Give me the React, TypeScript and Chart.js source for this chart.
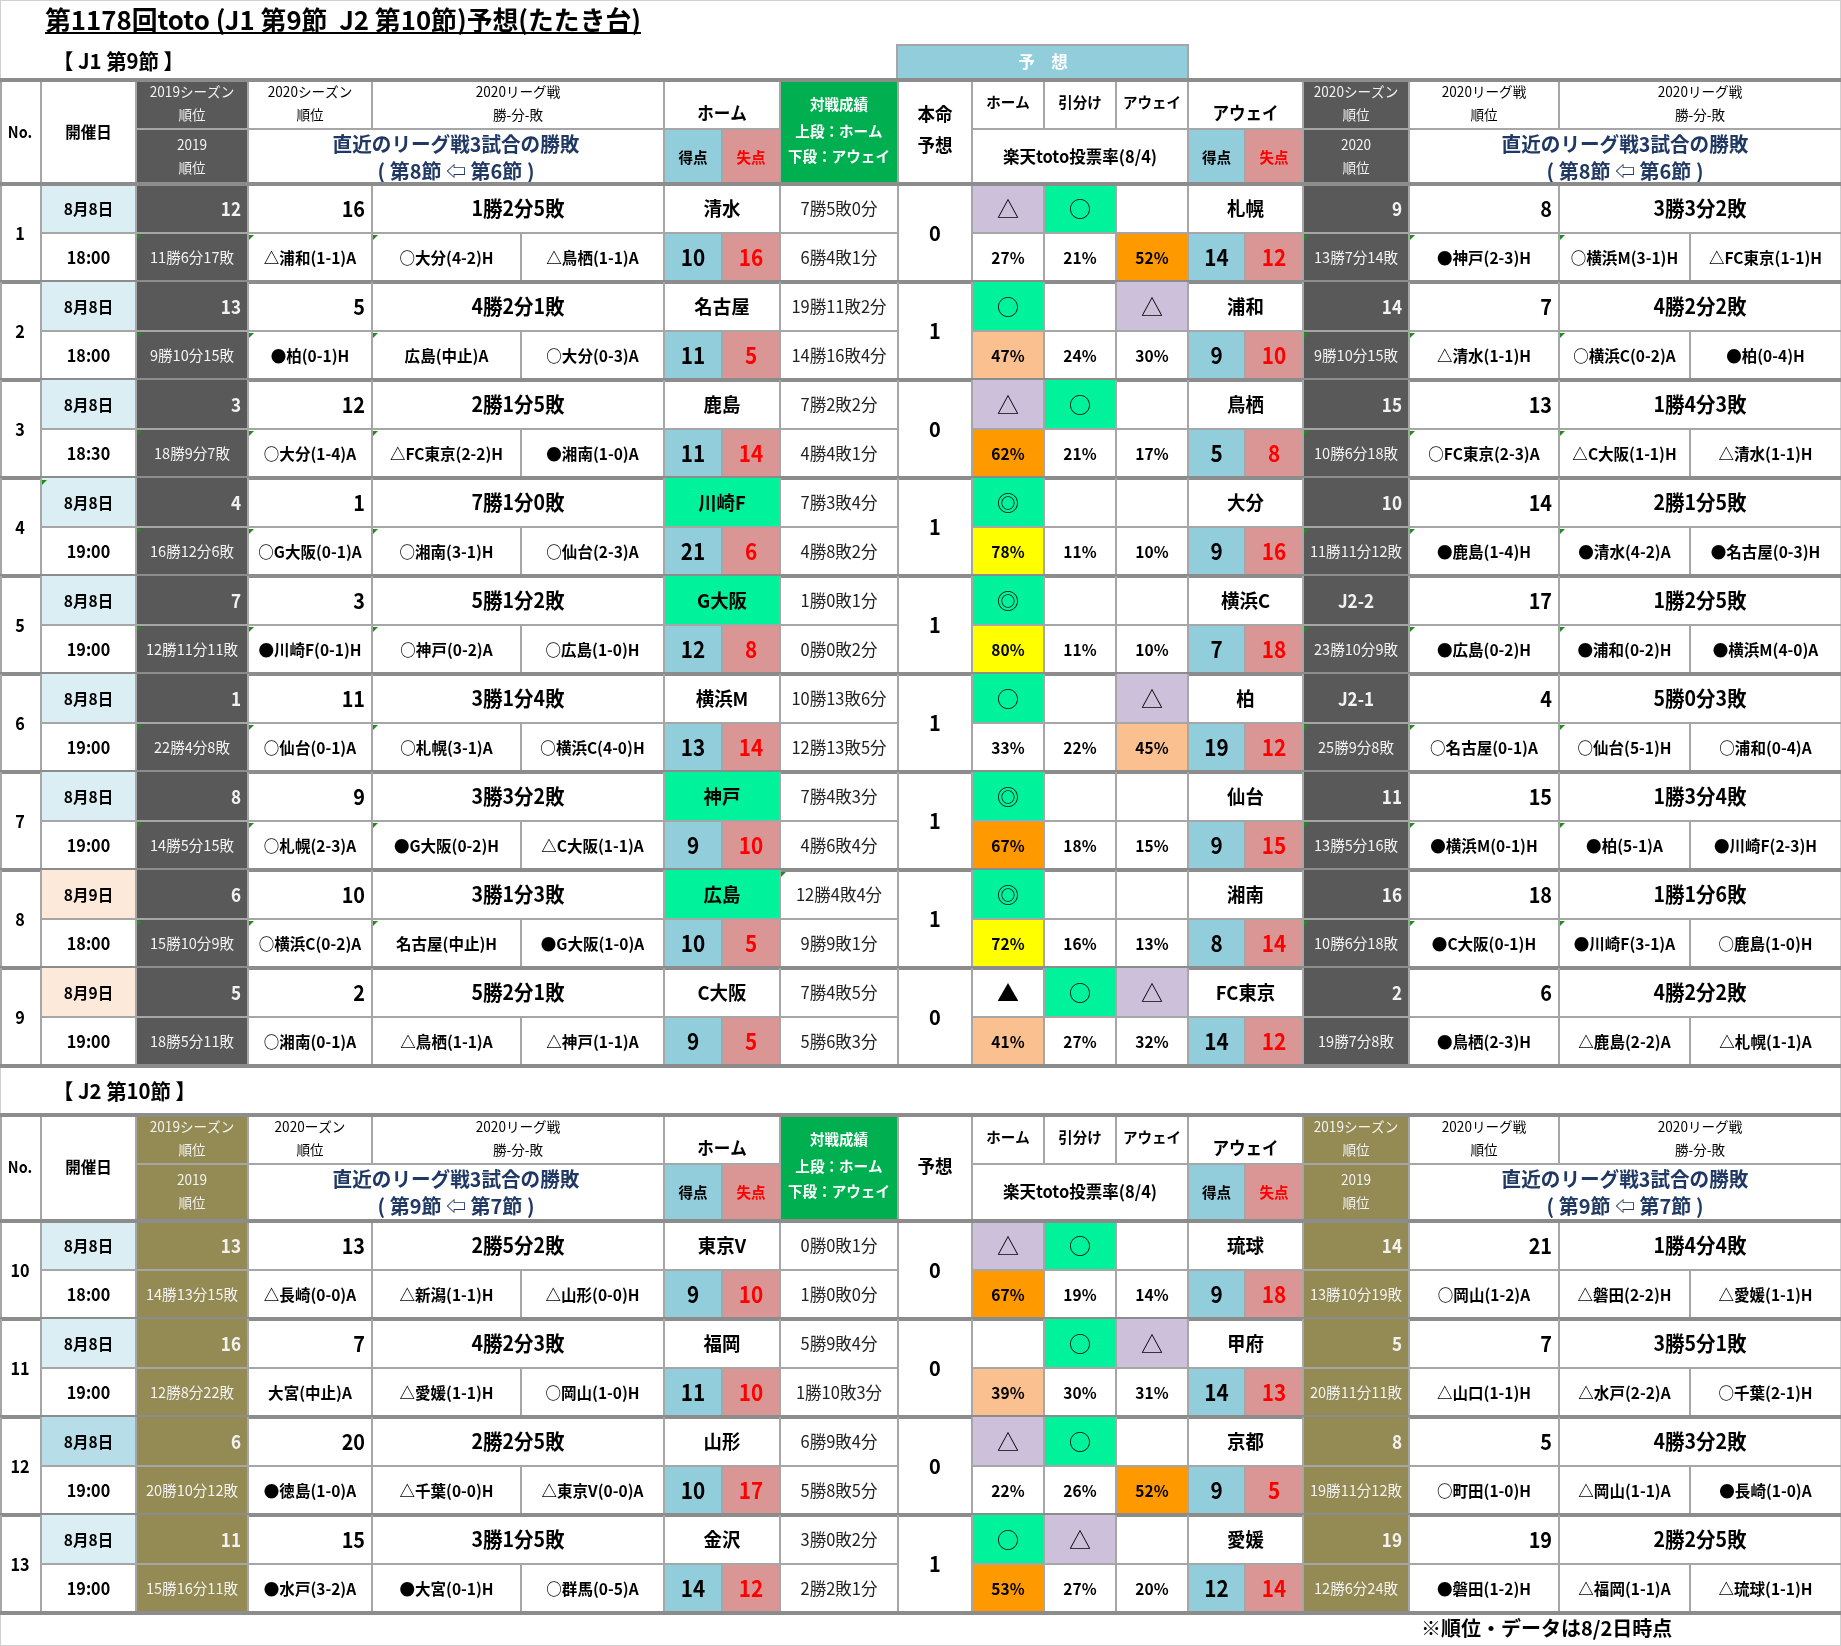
import React, { useEffect, useRef } from 'react';
import { Chart, registerables } from 'chart.js';
Chart.register(...registerables);

// ---------------- data ----------------
const title = '第1178回toto (J1 第9節  J2 第10節)予想(たたき台)';
const sectionLabels = ['【 J1 第9節 】', '【 J2 第10節 】'];
const footnote = '※順位・データは8/2日時点';

const matchNo = [1, 2, 3, 4, 5, 6, 7, 8, 9, 10, 11, 12, 13];
const dates = ['8月8日', '8月8日', '8月8日', '8月8日', '8月8日', '8月8日', '8月8日', '8月9日', '8月9日', '8月8日', '8月8日', '8月8日', '8月8日'];
const times = ['18:00', '18:00', '18:30', '19:00', '19:00', '19:00', '19:00', '18:00', '19:00', '18:00', '19:00', '19:00', '19:00'];
const homeTeams = ['清水', '名古屋', '鹿島', '川崎F', 'G大阪', '横浜M', '神戸', '広島', 'C大阪', '東京V', '福岡', '山形', '金沢'];
const awayTeams = ['札幌', '浦和', '鳥栖', '大分', '横浜C', '柏', '仙台', '湘南', 'FC東京', '琉球', '甲府', '京都', '愛媛'];
const homeRankA = ['12', '13', '3', '4', '7', '1', '8', '6', '5', '13', '16', '6', '11'];
const homeRecA = ['11勝6分17敗', '9勝10分15敗', '18勝9分7敗', '16勝12分6敗', '12勝11分11敗', '22勝4分8敗', '14勝5分15敗', '15勝10分9敗', '18勝5分11敗', '14勝13分15敗', '12勝8分22敗', '20勝10分12敗', '15勝16分11敗'];
const homeRankB = ['16', '5', '12', '1', '3', '11', '9', '10', '2', '13', '7', '20', '15'];
const homeWDL = ['1勝2分5敗', '4勝2分1敗', '2勝1分5敗', '7勝1分0敗', '5勝1分2敗', '3勝1分4敗', '3勝3分2敗', '3勝1分3敗', '5勝2分1敗', '2勝5分2敗', '4勝2分3敗', '2勝2分5敗', '3勝1分5敗'];
const homeRecent = [
  ['△浦和(1-1)A', '○大分(4-2)H', '△鳥栖(1-1)A'],
  ['●柏(0-1)H', '広島(中止)A', '○大分(0-3)A'],
  ['○大分(1-4)A', '△FC東京(2-2)H', '●湘南(1-0)A'],
  ['○G大阪(0-1)A', '○湘南(3-1)H', '○仙台(2-3)A'],
  ['●川崎F(0-1)H', '○神戸(0-2)A', '○広島(1-0)H'],
  ['○仙台(0-1)A', '○札幌(3-1)A', '○横浜C(4-0)H'],
  ['○札幌(2-3)A', '●G大阪(0-2)H', '△C大阪(1-1)A'],
  ['○横浜C(0-2)A', '名古屋(中止)H', '●G大阪(1-0)A'],
  ['○湘南(0-1)A', '△鳥栖(1-1)A', '△神戸(1-1)A'],
  ['△長崎(0-0)A', '△新潟(1-1)H', '△山形(0-0)H'],
  ['大宮(中止)A', '△愛媛(1-1)H', '○岡山(1-0)H'],
  ['●徳島(1-0)A', '△千葉(0-0)H', '△東京V(0-0)A'],
  ['●水戸(3-2)A', '●大宮(0-1)H', '○群馬(0-5)A'],
];
const homeGF = [10, 11, 11, 21, 12, 13, 9, 10, 9, 9, 11, 10, 14];
const homeGA = [16, 5, 14, 6, 8, 14, 10, 5, 5, 10, 10, 17, 12];
const h2hHome = ['7勝5敗0分', '19勝11敗2分', '7勝2敗2分', '7勝3敗4分', '1勝0敗1分', '10勝13敗6分', '7勝4敗3分', '12勝4敗4分', '7勝4敗5分', '0勝0敗1分', '5勝9敗4分', '6勝9敗4分', '3勝0敗2分'];
const h2hAway = ['6勝4敗1分', '14勝16敗4分', '4勝4敗1分', '4勝8敗2分', '0勝0敗2分', '12勝13敗5分', '4勝6敗4分', '9勝9敗1分', '5勝6敗3分', '1勝0敗0分', '1勝10敗3分', '5勝8敗5分', '2勝2敗1分'];
const picks = ['0', '1', '0', '1', '1', '1', '1', '1', '0', '0', '0', '0', '1'];
const markHome = ['△', '○', '△', '◎', '◎', '○', '◎', '◎', '▲', '△', '', '△', '○'];
const markDraw = ['○', '', '○', '', '', '', '', '', '○', '○', '○', '○', '△'];
const markAway = ['', '△', '', '', '', '△', '', '', '△', '', '△', '', ''];
const pctHome = [27, 47, 62, 78, 80, 33, 67, 72, 41, 67, 39, 22, 53];
const pctDraw = [21, 24, 21, 11, 11, 22, 18, 16, 27, 19, 30, 26, 27];
const pctAway = [52, 30, 17, 10, 10, 45, 15, 13, 32, 14, 31, 52, 20];
const awayGF = [14, 9, 5, 9, 7, 19, 9, 8, 14, 9, 14, 9, 12];
const awayGA = [12, 10, 8, 16, 18, 12, 15, 14, 12, 18, 13, 5, 14];
const awayRankA = ['9', '14', '15', '10', 'J2-2', 'J2-1', '11', '16', '2', '14', '5', '8', '19'];
const awayRecA = ['13勝7分14敗', '9勝10分15敗', '10勝6分18敗', '11勝11分12敗', '23勝10分9敗', '25勝9分8敗', '13勝5分16敗', '10勝6分18敗', '19勝7分8敗', '13勝10分19敗', '20勝11分11敗', '19勝11分12敗', '12勝6分24敗'];
const awayRankB = ['8', '7', '13', '14', '17', '4', '15', '18', '6', '21', '7', '5', '19'];
const awayWDL = ['3勝3分2敗', '4勝2分2敗', '1勝4分3敗', '2勝1分5敗', '1勝2分5敗', '5勝0分3敗', '1勝3分4敗', '1勝1分6敗', '4勝2分2敗', '1勝4分4敗', '3勝5分1敗', '4勝3分2敗', '2勝2分5敗'];
const awayRecent = [
  ['●神戸(2-3)H', '○横浜M(3-1)H', '△FC東京(1-1)H'],
  ['△清水(1-1)H', '○横浜C(0-2)A', '●柏(0-4)H'],
  ['○FC東京(2-3)A', '△C大阪(1-1)H', '△清水(1-1)H'],
  ['●鹿島(1-4)H', '●清水(4-2)A', '●名古屋(0-3)H'],
  ['●広島(0-2)H', '●浦和(0-2)H', '●横浜M(4-0)A'],
  ['○名古屋(0-1)A', '○仙台(5-1)H', '○浦和(0-4)A'],
  ['●横浜M(0-1)H', '●柏(5-1)A', '●川崎F(2-3)H'],
  ['●C大阪(0-1)H', '●川崎F(3-1)A', '○鹿島(1-0)H'],
  ['●鳥栖(2-3)H', '△鹿島(2-2)A', '△札幌(1-1)A'],
  ['○岡山(1-2)A', '△磐田(2-2)H', '△愛媛(1-1)H'],
  ['△山口(1-1)H', '△水戸(2-2)A', '○千葉(2-1)H'],
  ['○町田(1-0)H', '△岡山(1-1)A', '●長崎(1-0)A'],
  ['●磐田(1-2)H', '△福岡(1-1)A', '△琉球(1-1)H'],
];

// ---------------- styles / layout ----------------
const W = 1841, H = 1646;
const COL = [0, 41, 136, 248, 372, 521, 664, 722, 780, 898, 972, 1044, 1116, 1188, 1245, 1303, 1409, 1559, 1690, 1841];
const SECTIONS = [
  { label: 0, labelY: 61, top: 80, headH: 104, first: 0, count: 9, j1: true, round: '( 第8節 ⇦ 第6節 )' },
  { label: 1, labelY: 1091, top: 1115, headH: 106, first: 9, count: 4, j1: false, round: '( 第9節 ⇦ 第7節 )' },
];
const ROW_H = 98;
const FONT = '"Noto Sans CJK JP", "Noto Sans", sans-serif';
const SX = 0.97;
const DARK = '#595959', OLIVE = '#948a54';
const BLUE = '#92cddc', PINK = '#da9694', MINT = '#00f29a', LAV = '#ccc0da', GREEN = '#00b050';
const NAVY = '#1f3864';
const THIN = '#a6a6a6', THICK = '#8c8c8c';
const HOME_HIGHLIGHT = new Set([4, 5, 7, 8]);
const DARK_DATE = new Set([12]);
const TRI_MATCHES = new Set([1, 2, 3, 4, 5, 6, 7, 8]);

const tablePlugin = {
  id: 'tablePlugin',
  afterDraw(chart: any) {
    const ctx: CanvasRenderingContext2D = chart.ctx;
    const xs = chart.scales.x, ys = chart.scales.y;
    const X = (v: number) => xs.getPixelForValue(v);
    const Y = (v: number) => ys.getPixelForValue(v);
    const C = (i: number) => COL[i];

    const fill = (x0: number, x1: number, y0: number, y1: number, c: string) => {
      ctx.fillStyle = c;
      ctx.fillRect(X(x0), Y(y0), X(x1) - X(x0), Y(y1) - Y(y0));
    };
    const hl = (x0: number, x1: number, y: number, w: number, c: string) => {
      ctx.fillStyle = c;
      ctx.fillRect(X(x0), Y(y) - w / 2, X(x1) - X(x0), w);
    };
    const vl = (x: number, y0: number, y1: number, w: number, c: string) => {
      ctx.fillStyle = c;
      ctx.fillRect(X(x) - w / 2, Y(y0), w, Y(y1) - Y(y0));
    };
    const txt = (s: string, x: number, y: number, o: any = {}) => {
      if (!s) return;
      const size = o.size ?? 16;
      const sx = o.sx ?? SX;
      ctx.save();
      ctx.font = `${o.bold === false ? 'normal' : 'bold'} ${size}px ${FONT}`;
      ctx.fillStyle = o.color ?? '#000';
      ctx.textAlign = o.align ?? 'center';
      ctx.textBaseline = 'middle';
      ctx.translate(X(x), Y(y));
      ctx.scale(sx, 1);
      if (o.maxW) ctx.fillText(s, 0, 0, o.maxW / sx);
      else ctx.fillText(s, 0, 0);
      ctx.restore();
    };
    const tri = (x: number, y: number) => {
      ctx.fillStyle = '#1e8c1e';
      ctx.beginPath();
      ctx.moveTo(X(x) + 1, Y(y) + 2);
      ctx.lineTo(X(x) + 6, Y(y) + 2);
      ctx.lineTo(X(x) + 1, Y(y) + 7);
      ctx.closePath();
      ctx.fill();
    };
    const mid = (a: number, b: number) => (C(a) + C(b)) / 2;

    // outer frame
    ctx.fillStyle = '#fff';
    ctx.fillRect(X(0), Y(0), X(W) - X(0), Y(H) - Y(0));
    ctx.strokeStyle = '#d0d0d0';
    ctx.lineWidth = 1;
    ctx.strokeRect(X(0) + 0.5, Y(0) + 0.5, X(W) - X(0) - 1, Y(H) - Y(0) - 1);

    // title
    ctx.save();
    ctx.font = `bold 26px ${FONT}`;
    const tw = ctx.measureText(title).width;
    ctx.restore();
    const titleW = 596;
    txt(title, 45, 20, { size: 26, align: 'left', sx: titleW / tw });
    hl(45, 45 + titleW, 33, 2, '#000');

    // 予想 box
    fill(C(9) - 1, C(13), 45, 80, BLUE);
    ctx.strokeStyle = THIN; ctx.lineWidth = 2;
    ctx.strokeRect(X(C(9) - 1), Y(45), X(C(13)) - X(C(9) - 1), Y(80) - Y(45));
    txt('予　想', mid(9, 13), 62, { size: 17, color: '#fff' });

    txt(footnote, 1421, 1628, { size: 20, align: 'left', sx: 1.0 });

    for (const sec of SECTIONS) {
      const T = sec.top, HH = sec.headH, RA = T + 49, B = T + HH;
      const hdr = sec.j1 ? DARK : OLIVE;
      txt(sectionLabels[sec.label], 53, sec.labelY, { size: 21, align: 'left' });

      // header fills
      fill(C(2), C(3), T, B, hdr);
      fill(C(6), C(7), RA, B, BLUE);
      fill(C(7), C(8), RA, B, PINK);
      fill(C(8), C(9), T, B, GREEN);
      fill(C(13), C(14), RA, B, BLUE);
      fill(C(14), C(15), RA, B, PINK);
      fill(C(15), C(16), T, B, hdr);

      // header lines
      hl(C(2), C(8), RA, 2, THIN);
      hl(C(10), C(19), RA, 2, THIN);
      for (const i of [1, 2, 3, 6, 8, 9, 10, 13, 15, 16]) vl(C(i), T, B, 2, THIN);
      for (const i of [4, 11, 12, 17]) vl(C(i), T, RA, 2, THIN);
      for (const i of [7, 14]) vl(C(i), RA, B, 2, THIN);
      vl(1, T, B, 2, THIN);

      // header text
      const lt = '#f2f2f2';
      txt('No.', 20, T + 52, { size: 16, sx: 0.9 });
      txt('開催日', mid(1, 2), T + 52, { size: 16 });
      txt('2019シーズン', mid(2, 3), T + 12, { size: 14, bold: false, color: lt });
      txt('順位', mid(2, 3), T + 35, { size: 14, bold: false, color: lt });
      txt('2019', mid(2, 3), T + 65, { size: 14, bold: false, color: lt });
      txt('順位', mid(2, 3), T + 88, { size: 14, bold: false, color: lt });
      txt(sec.j1 ? '2020シーズン' : '2020ーズン', mid(3, 4), T + 12, { size: 14, bold: false });
      txt('順位', mid(3, 4), T + 35, { size: 14, bold: false });
      txt('2020リーグ戦', mid(4, 6), T + 12, { size: 14, bold: false });
      txt('勝-分-敗', mid(4, 6), T + 35, { size: 14, bold: false });
      txt('直近のリーグ戦3試合の勝敗', mid(3, 6), T + 64, { size: 20, color: NAVY, sx: 0.98 });
      txt(sec.round, mid(3, 6), T + 91, { size: 20, color: NAVY, sx: 1.0 });
      txt('ホーム', mid(6, 8), T + 33, { size: 18, sx: 0.92 });
      txt('得点', mid(6, 7), T + 77, { size: 15 });
      txt('失点', mid(7, 8), T + 77, { size: 15, color: '#ff0000' });
      txt('対戦成績', mid(8, 9), T + 24, { size: 15, color: '#fff' });
      txt('上段：ホーム', mid(8, 9), T + 51, { size: 15, color: '#fff' });
      txt('下段：アウェイ', mid(8, 9), T + 76, { size: 15, color: '#fff', maxW: 112 });
      if (sec.j1) {
        txt('本命', mid(9, 10), T + 34, { size: 18 });
        txt('予想', mid(9, 10), T + 65, { size: 18 });
      } else {
        txt('予想', mid(9, 10), T + 51, { size: 18 });
      }
      txt('ホーム', mid(10, 11), T + 22, { size: 15 });
      txt('引分け', mid(11, 12), T + 22, { size: 15 });
      txt('アウェイ', mid(12, 13), T + 22, { size: 15, maxW: 68 });
      txt('楽天toto投票率(8/4)', mid(10, 13), T + 77, { size: 17 });
      txt('アウェイ', mid(13, 15), T + 33, { size: 18, sx: 0.92 });
      txt('得点', mid(13, 14), T + 77, { size: 15 });
      txt('失点', mid(14, 15), T + 77, { size: 15, color: '#ff0000' });
      txt(sec.j1 ? '2020シーズン' : '2019シーズン', mid(15, 16), T + 12, { size: 14, bold: false, color: lt });
      txt('順位', mid(15, 16), T + 35, { size: 14, bold: false, color: lt });
      txt(sec.j1 ? '2020' : '2019', mid(15, 16), T + 65, { size: 14, bold: false, color: lt });
      txt('順位', mid(15, 16), T + 88, { size: 14, bold: false, color: lt });
      txt('2020リーグ戦', mid(16, 17), T + 12, { size: 14, bold: false });
      txt('順位', mid(16, 17), T + 35, { size: 14, bold: false });
      txt('2020リーグ戦', mid(17, 19), T + 12, { size: 14, bold: false });
      txt('勝-分-敗', mid(17, 19), T + 35, { size: 14, bold: false });
      txt('直近のリーグ戦3試合の勝敗', mid(16, 19), T + 64, { size: 20, color: NAVY, sx: 0.98 });
      txt(sec.round, mid(16, 19), T + 91, { size: 20, color: NAVY, sx: 1.0 });

      // data rows
      for (let k = 0; k < sec.count; k++) {
        const m = sec.first + k;
        const y0 = B + k * ROW_H, yM = y0 + ROW_H / 2, yB = y0 + ROW_H;
        const uc = y0 + ROW_H / 4, lc = yM + ROW_H / 4;
        const no = matchNo[m];
        // fills
        const dfill = dates[m] === '8月9日' ? '#fde9d9' : DARK_DATE.has(no) ? '#b7dee8' : '#daeef3';
        fill(C(1), C(2), y0, yM, dfill);
        fill(C(2), C(3), y0, yB, hdr);
        if (HOME_HIGHLIGHT.has(no)) fill(C(6), C(8), y0, yM, MINT);
        fill(C(6), C(7), yM, yB, BLUE);
        fill(C(7), C(8), yM, yB, PINK);
        fill(C(13), C(14), yM, yB, BLUE);
        fill(C(14), C(15), yM, yB, PINK);
        fill(C(15), C(16), y0, yB, hdr);
        const marks = [markHome[m], markDraw[m], markAway[m]];
        const pcts = [pctHome[m], pctDraw[m], pctAway[m]];
        const maxP = Math.max(...pcts);
        for (let j = 0; j < 3; j++) {
          const mk = marks[j];
          if (mk === '○' || mk === '◎') fill(C(10 + j), C(11 + j), y0, yM, MINT);
          else if (mk === '△') fill(C(10 + j), C(11 + j), y0, yM, LAV);
          if (pcts[j] === maxP) {
            const pc = maxP >= 70 ? '#ffff00' : maxP >= 50 ? '#ff9900' : '#fac090';
            fill(C(10 + j), C(11 + j), yM, yB, pc);
          }
        }

        // grid
        hl(C(1), C(9), yM, 2, THIN);
        hl(C(10), C(19), yM, 2, THIN);
        for (const i of [1, 2, 3, 4, 6, 8, 9, 10, 11, 12, 13, 15, 16, 17]) vl(C(i), y0, yB, 2, THIN);
        for (const i of [5, 7, 14, 18]) vl(C(i), yM, yB, 2, THIN);
        vl(1, y0, yB, 2, THIN);

        if (sec.j1 && TRI_MATCHES.has(no)) {
          for (const i of [2, 3, 4, 15, 16, 17]) tri(C(i), yM);
          if (no === 4) tri(C(1), y0);
          if (no === 8) tri(C(8), y0);
        }

        // texts
        txt(String(no), 20, yM, { size: 18, sx: 0.9 });
        txt(dates[m], mid(1, 2), uc, { size: 16 });
        txt(times[m], mid(1, 2), lc, { size: 17, sx: 0.95 });
        txt(homeRankA[m], C(3) - 7, uc, { size: 19, align: 'right', color: '#f2f2f2', sx: 0.9 });
        txt(homeRecA[m], mid(2, 3), lc, { size: 15, bold: false, color: '#f2f2f2', maxW: 106 });
        txt(homeRankB[m], C(4) - 7, uc, { size: 22, align: 'right', sx: 0.9 });
        txt(homeWDL[m], mid(4, 6), uc, { size: 21, sx: 0.93 });
        for (let j = 0; j < 3; j++) txt(homeRecent[m][j], mid(3 + j, 4 + j), lc, { size: 16, maxW: C(4 + j) - C(3 + j) - 6 });
        txt(homeTeams[m], mid(6, 8), uc, { size: 19 });
        txt(String(homeGF[m]), mid(6, 7), lc, { size: 23, sx: 0.9 });
        txt(String(homeGA[m]), mid(7, 8), lc, { size: 23, sx: 0.9, color: '#ff0000' });
        txt(h2hHome[m], mid(8, 9), uc, { size: 17, bold: false, color: '#222', maxW: 108 });
        txt(h2hAway[m], mid(8, 9), lc, { size: 17, bold: false, color: '#222', maxW: 108 });
        txt(picks[m], mid(9, 10), yM, { size: 21, sx: 0.95 });
        for (let j = 0; j < 3; j++) {
          txt(marks[j], mid(10 + j, 11 + j), uc, { size: 22, bold: marks[j] === '▲', sx: 1 });
          txt(`${pcts[j]}%`, mid(10 + j, 11 + j), lc, { size: 16, sx: 0.97 });
        }
        txt(awayTeams[m], mid(13, 15), uc, { size: 19 });
        txt(String(awayGF[m]), mid(13, 14), lc, { size: 23, sx: 0.9 });
        txt(String(awayGA[m]), mid(14, 15), lc, { size: 23, sx: 0.9, color: '#ff0000' });
        const ra = awayRankA[m];
        if (ra.startsWith('J2')) txt(ra, mid(15, 16), uc, { size: 19, color: '#f2f2f2', sx: 0.9 });
        else txt(ra, C(16) - 7, uc, { size: 19, align: 'right', color: '#f2f2f2', sx: 0.9 });
        txt(awayRecA[m], mid(15, 16), lc, { size: 15, bold: false, color: '#f2f2f2', maxW: 102 });
        txt(awayRankB[m], C(17) - 7, uc, { size: 22, align: 'right', sx: 0.9 });
        txt(awayWDL[m], mid(17, 19), uc, { size: 21, sx: 0.93 });
        for (let j = 0; j < 3; j++) txt(awayRecent[m][j], mid(16 + j, 17 + j), lc, { size: 16, maxW: C(17 + j) - C(16 + j) - 6 });

        // bottom border of match
        hl(C(0), C(19), yB, 4, THICK);
      }
      // section top & header bottom
      hl(C(0), C(19), T, 4, THICK);
      hl(C(0), C(19), B, 4, THICK);
    }
  },
};

export default function App() {
  const ref = useRef<HTMLCanvasElement>(null);
  useEffect(() => {
    document.body.style.margin = '0';
    document.body.style.overflow = 'hidden';
    const chart = new Chart(ref.current as HTMLCanvasElement, {
      type: 'scatter',
      data: { datasets: [{ data: [], pointRadius: 0 }] },
      options: {
        responsive: false,
        animation: false,
        devicePixelRatio: 1,
        layout: { padding: 0 },
        scales: {
          x: { type: 'linear', min: 0, max: W, display: false },
          y: { type: 'linear', min: 0, max: H, reverse: true, display: false },
        },
        plugins: { legend: { display: false }, tooltip: { enabled: false } },
      },
      plugins: [tablePlugin],
    } as any);
    return () => chart.destroy();
  }, []);
  return <canvas ref={ref} width={W} height={H} style={{ display: 'block', width: W, height: H }} />;
}
